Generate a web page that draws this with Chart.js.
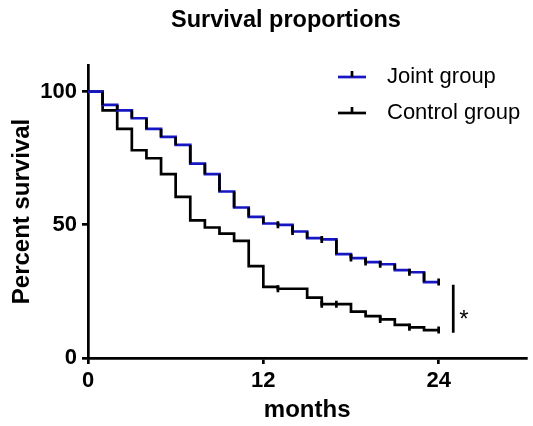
<!DOCTYPE html>
<html>
<head>
<meta charset="utf-8">
<script src="https://cdn.jsdelivr.net/npm/chart.js@4/dist/chart.umd.min.js"></script>
<style>
  body { margin: 0; background: #fff; }
</style>
</head>
<body>
<canvas id="myChart" width="533" height="426"></canvas>
<script>
const months = [0, 1, 2, 3, 4, 5, 6, 7, 8, 9, 10, 11, 12, 13, 14, 15, 16, 17, 18, 19, 20, 21, 22, 23, 24]
const joint = [100, 95, 93, 90, 86, 83, 80, 73, 69, 62.5, 56.5, 53, 50.5, 50, 47.5, 45, 44.5, 39, 37.5, 36, 35.2, 33, 32.2, 28.5, 28.5]
const control = [100, 93, 86, 78, 75, 69, 60.5, 51.7, 49, 46.7, 44, 34.5, 26.7, 26, 26, 22.7, 20.2, 20.2, 17.4, 15.7, 14.5, 12.4, 11.5, 10.5, 10.5]
// months with a censor tick
const jointCensored = [13, 14, 16, 18, 19, 20, 22, 24]
const controlCensored = [13, 16, 17, 20, 22, 24]
const xTicks = [0, 12, 24]
const yTicks = [0, 50, 100]
// significance bar between the two groups
const barMonth = 25
const barRange = [27.5, 9.5]

const FONT = "'Liberation Sans', Arial, sans-serif"
const BLUE = '#1616c4'

const toPoints = (vals) => months.map((m, i) => ({ x: m, y: vals[i] }))
const tickSize = (censored) => (ctx) => (ctx.raw && censored.includes(ctx.raw.x)) ? 3.5 : 0

const extras = {
  id: 'extras',
  afterDatasetsDraw(chart) {
    const { ctx, scales: { x, y } } = chart
    ctx.save()
    // the joint curve has its drops drawn in black
    const pts = chart.getDatasetMeta(0).data
    ctx.strokeStyle = '#000'
    ctx.lineWidth = 2.7
    ctx.beginPath()
    for (let i = 1; i < pts.length; i++) {
      if (pts[i].y !== pts[i - 1].y) {
        ctx.moveTo(pts[i].x, pts[i - 1].y)
        ctx.lineTo(pts[i].x, pts[i].y)
      }
    }
    ctx.stroke()

    ctx.fillStyle = '#000'
    ctx.font = `24px ${FONT}`
    ctx.textAlign = 'left'
    ctx.textBaseline = 'alphabetic'
    const mid = y.getPixelForValue((barRange[0] + barRange[1]) / 2)
    ctx.fillText('*', x.getPixelForValue(barMonth) + 6, mid + 18)
    ctx.restore()
  },
  afterDraw(chart) {
    const { ctx } = chart
    ctx.save()
    ctx.fillStyle = '#000'
    ctx.font = `bold 23.5px ${FONT}`
    ctx.textAlign = 'center'
    ctx.textBaseline = 'middle'
    ctx.fillText('Survival proportions', 286, 21)

    chart.data.datasets.slice(0, 2).forEach((ds, i) => {
      const yy = 77 + i * 36
      ctx.strokeStyle = ds.borderColor
      ctx.lineWidth = 2.7
      ctx.beginPath()
      ctx.moveTo(338, yy)
      ctx.lineTo(366, yy)
      ctx.stroke()
      ctx.strokeStyle = '#000'
      ctx.beginPath()
      ctx.moveTo(352, yy)
      ctx.lineTo(352, yy - 6)
      ctx.stroke()
      ctx.fillStyle = '#000'
      ctx.font = `22px ${FONT}`
      ctx.textAlign = 'left'
      ctx.fillText(ds.label, 387, yy)
    })
    ctx.restore()
  }
}

new Chart(
  document.getElementById('myChart'),
  {
    type: 'line',
    data: {
      datasets: [
        {
          label: 'Joint group',
          data: toPoints(joint),
          borderColor: BLUE,
          borderWidth: 2.7,
          stepped: true,
          pointStyle: 'line',
          rotation: 90,
          pointRadius: tickSize(jointCensored),
          pointBorderColor: '#000',
          pointBorderWidth: 2.7
        },
        {
          label: 'Control group',
          data: toPoints(control),
          borderColor: '#000',
          borderWidth: 2.7,
          stepped: true,
          pointStyle: 'line',
          rotation: 90,
          pointRadius: tickSize(controlCensored),
          pointBorderColor: '#000',
          pointBorderWidth: 2.7
        },
        {
          label: 'p',
          data: barRange.map((v) => ({ x: barMonth, y: v })),
          borderColor: '#000',
          borderWidth: 2.7,
          pointRadius: 0
        }
      ]
    },
    options: {
      responsive: false,
      animation: false,
      layout: { padding: { top: 65, right: 5, left: 0, bottom: 0 } },
      plugins: {
        legend: { display: false },
        tooltip: { enabled: false }
      },
      scales: {
        x: {
          type: 'linear',
          min: 0,
          max: 30,
          afterBuildTicks: (s) => { s.ticks = xTicks.map((v) => ({ value: v })) },
          afterFit: (s) => { s.height = 68 },
          ticks: { color: '#000', font: { family: FONT, size: 22, weight: 'bold' }, padding: 4 },
          grid: { drawOnChartArea: false, tickLength: 6, color: '#000', lineWidth: 2.7 },
          border: { color: '#000', width: 2.7 },
          title: { display: true, text: 'months', color: '#000', font: { family: FONT, size: 24, weight: 'bold' }, padding: { top: 0, bottom: 1 } }
        },
        y: {
          min: 0,
          max: 110,
          afterBuildTicks: (s) => { s.ticks = yTicks.map((v) => ({ value: v })) },
          afterFit: (s) => { s.width = 88 },
          ticks: { color: '#000', font: { family: FONT, size: 22, weight: 'bold' }, padding: 5 },
          grid: { drawOnChartArea: false, tickLength: 6, color: '#000', lineWidth: 2.7 },
          border: { color: '#000', width: 2.7 },
          title: { display: true, text: 'Percent survival', color: '#000', font: { family: FONT, size: 24, weight: 'bold' }, padding: { top: 8, bottom: 0 } }
        }
      }
    },
    plugins: [extras]
  }
)
</script>
</body>
</html>
